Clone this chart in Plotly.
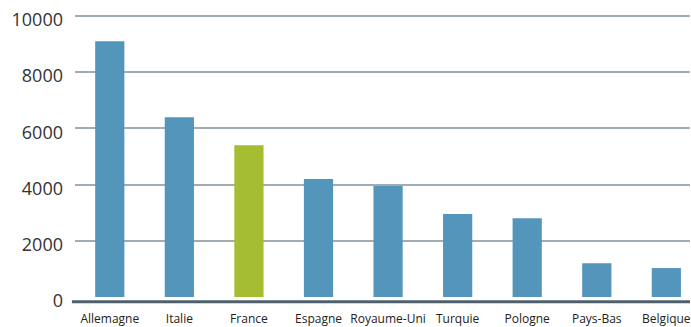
import plotly.graph_objects as go

# Countries and values
pays = ["Allemagne", "Italie", "France", "Espagne", "Royaume-Uni",
        "Turquie", "Pologne", "Pays-Bas", "Belgique"]
valeurs = [9100, 6400, 5400, 4200, 3950, 2950, 2800, 1200, 1030]
y_ticks = [0, 2000, 4000, 6000, 8000, 10000]

BLUE = "#5495bc"
GREEN = "#a4bd32"
couleurs = [GREEN if p == "France" else BLUE for p in pays]

fig = go.Figure(go.Bar(
    x=pays,
    y=valeurs,
    marker=dict(color=couleurs, line=dict(width=0)),
    width=0.42,
))

fig.update_layout(
    width=691,
    height=327,
    margin=dict(l=75, r=0, t=14, b=28),
    plot_bgcolor="white",
    paper_bgcolor="white",
    showlegend=False,
    font=dict(family="Open Sans", color="#333333"),
    xaxis=dict(
        range=[-0.5, 8.34],
        showgrid=False,
        showline=False,
        zeroline=False,
        ticks="",
        tickfont=dict(size=12, color="#222222"),
        ticklabelstandoff=13,
    ),
    yaxis=dict(
        range=[0, 10070],
        tickvals=y_ticks,
        ticktext=[str(v) for v in y_ticks],
        showgrid=True,
        gridcolor="#a3abb3",
        gridwidth=1.5,
        zeroline=False,
        showline=False,
        ticks="",
        tickfont=dict(size=18, color="#333333"),
        ticklabelshift=4,
        ticklabelstandoff=11,
    ),
    shapes=[dict(
        type="line", xref="paper", yref="paper",
        x0=-0.005, x1=1, y0=-0.017, y1=-0.017,
        line=dict(color="#4f5f6c", width=3),
        layer="above",
    )],
)

fig.write_html("out.html")
